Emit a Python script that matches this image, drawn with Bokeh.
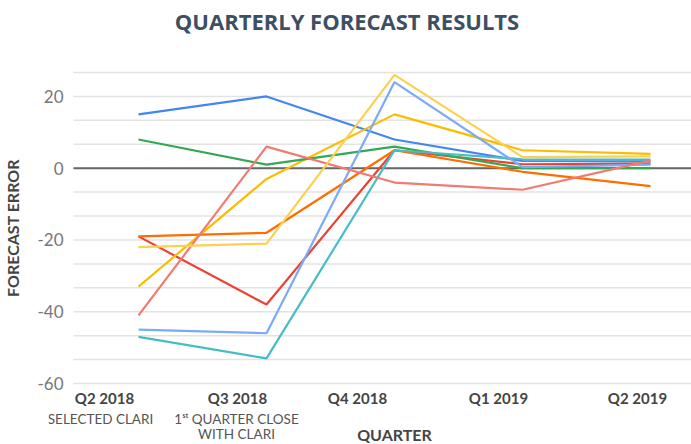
from bokeh.plotting import figure
from bokeh.models import FixedTicker, Range1d
from bokeh.core.properties import value
from bokeh.embed import file_html
from bokeh.resources import INLINE

# ---- data ----
title_text = "QUARTERLY FORECAST RESULTS"
quarters = ["Q2 2018", "Q3 2018", "Q4 2018", "Q1 2019", "Q2 2019"]
sublabels = ["SELECTED CLARI", "1\u02e2\u1d57 QUARTER CLOSE\nWITH CLARI", "", "", ""]
x_title = "QUARTER"
y_title = "FORECAST ERROR"
xpos = [0, 1, 2, 3, 4]

blue = [15, 20, 8, 2, 1.9]
red = [-19, -38, 5, 1.1, 1.3]
yellow = [-33, -3, 15, 5, 4]
green = [8, 1, 6, 0, 0]
orange = [-19, -18, 5, -1, -5]
teal = [-47, -53, 5, 2.5, 2.4]
light_blue = [-45, -46, 24, 0.3, 1]
salmon = [-41, 6, -4, -6, 2.1]
light_yellow = [-22, -21, 26, 3.1, 3.3]

series = [
    (blue, "#4285F4"),
    (red, "#EA4335"),
    (yellow, "#FBBC04"),
    (green, "#34A853"),
    (orange, "#FF6D01"),
    (teal, "#46BDC6"),
    (light_blue, "#7BAAF7"),
    (salmon, "#F07B72"),
    (light_yellow, "#FCD04F"),
]

y_major = [-60, -40, -20, 0, 20]
y_min, y_max = -60, 26.67
y_grid = [y_min + i * 20 / 3 for i in range(14)]

# ---- layout geometry (pixels) ----
W, H = 691, 444
FRAME_LEFT = 48          # frame starts left of the grid so captions fit
FRAME_TOP = 11
GRID_LEFT = 73
GRID_TOP_PX, GRID_BOT_PX = 72, 383
PX_PER_Q = 128
FIRST_Q_PX = 138
scale = (GRID_BOT_PX - GRID_TOP_PX) / (y_max - y_min)   # px per unit


def y_at(py):
    return y_max - (py - GRID_TOP_PX) / scale


def x_at(px):
    return (px - FIRST_Q_PX) / PX_PER_Q


# offsets (px) of the category captions relative to their quarter
quarter_dx = [-34, -29, -37, -24, -13]
sub_dx = [-38, -30, 0, 0, 0]

p = figure(width=W, height=H, output_backend="svg", toolbar_location=None,
           x_range=Range1d(x_at(FRAME_LEFT), x_at(W)), y_range=Range1d(y_at(H), y_at(FRAME_TOP)),
           x_axis_type=None,
           min_border_left=FRAME_LEFT, min_border_right=0,
           min_border_top=FRAME_TOP, min_border_bottom=0)
p.outline_line_color = None
p.ygrid.visible = False

# horizontal grid lines (start at the plot's left edge)
n_g = len(y_grid)
p.segment(x0=[x_at(GRID_LEFT)] * n_g, x1=[x_at(W)] * n_g, y0=y_grid, y1=y_grid,
          line_color="#e3e3e3", line_width=1.5)
# zero line
p.segment(x0=[x_at(GRID_LEFT)], x1=[x_at(W)], y0=[0], y1=[0],
          line_color="#666666", line_width=2)

ya = p.yaxis[0]
ya.ticker = FixedTicker(ticks=y_major)
ya.major_label_overrides = {v: str(v) for v in y_major}
ya.axis_line_color = None
ya.major_tick_line_color = None
ya.minor_tick_line_color = None
ya.major_tick_out = 0
ya.major_tick_in = 0
ya.minor_tick_out = 0
ya.major_label_standoff = FRAME_LEFT - 63
ya.major_label_text_font = "Lato"
ya.major_label_text_font_size = "17px"
ya.major_label_text_color = "#777777"
ya.axis_label = y_title
ya.axis_label_text_font = "Lato"
ya.axis_label_text_font_size = "16px"
ya.axis_label_text_font_style = "bold"
ya.axis_label_text_color = "#444444"
ya.axis_label_standoff = 12

for ys, c in series:
    p.line(xpos, ys, line_color=c, line_width=2.2)

# title
p.text(x=[x_at(346.5)], y=[y_at(20)], text=[title_text],
       text_align="center", text_baseline="middle",
       text_font=value("Open Sans"), text_font_size="22px", text_font_style="bold",
       text_color="#3d4f63")

# category captions
n = len(xpos)
p.text(x=xpos, y=[y_at(397)] * n, x_offset=quarter_dx, text=quarters,
       text_align="center", text_baseline="middle",
       text_font=value("Lato"), text_font_size="15px", text_font_style="bold",
       text_color="#444444")

line1 = [s.split("\n")[0] for s in sublabels]
line2 = [s.split("\n")[1] if "\n" in s else "" for s in sublabels]
p.text(x=xpos, y=[y_at(418)] * n, x_offset=sub_dx, text=line1,
       text_align="center", text_baseline="middle",
       text_font=value("Lato"), text_font_size="13.5px", text_color="#555555")
p.text(x=xpos, y=[y_at(433)] * n, x_offset=sub_dx, text=line2,
       text_align="center", text_baseline="middle",
       text_font=value("Lato"), text_font_size="13.5px", text_color="#555555")

p.text(x=[xpos[2]], y=[y_at(434)], text=[x_title], text_align="center", text_baseline="middle",
       text_font=value("Lato"), text_font_size="16px", text_font_style="bold",
       text_color="#444444")

open("out.html", "w").write(file_html(p, INLINE))
